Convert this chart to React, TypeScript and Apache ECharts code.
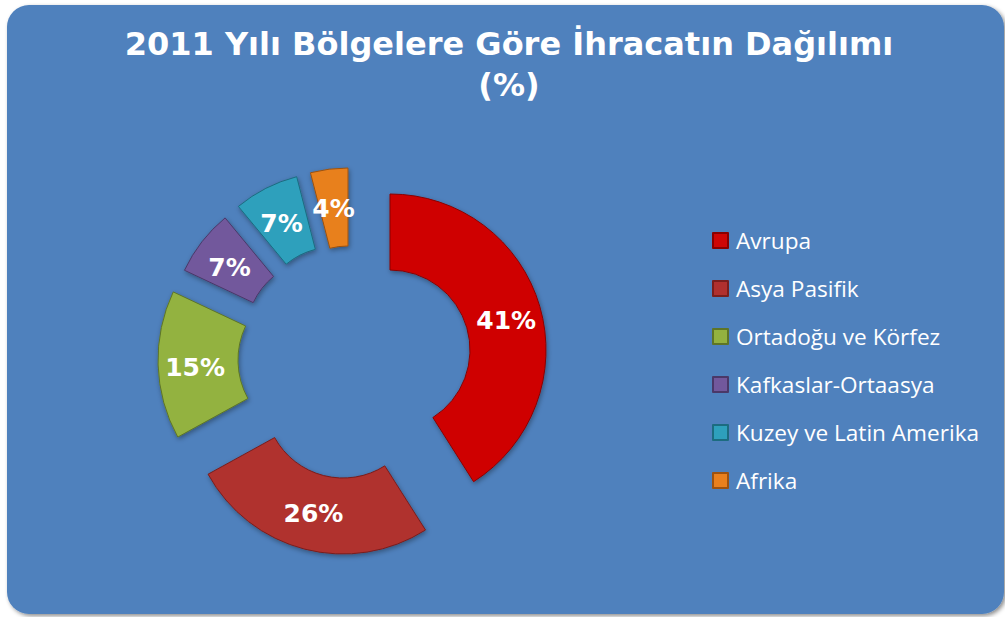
import React, { useEffect, useRef } from 'react';
import * as echarts from 'echarts';

const titleText = '2011 Yılı Bölgelere Göre İhracatın Dağılımı\n(%)';
const regions = [
  'Avrupa',
  'Asya Pasifik',
  'Ortadoğu ve Körfez',
  'Kafkaslar-Ortaasya',
  'Kuzey ve Latin Amerika',
  'Afrika',
];
const shares = [41, 26, 15, 7, 7, 4];

// styles
const sliceColors = ['#CF0606', '#B0302E', '#93B23F', '#72589C', '#2EA0BC', '#E8801E'];
const sliceBorders = ['#8A0000', '#7A1E1C', '#5E7526', '#4A3868', '#1C6C80', '#9C5210'];

// layout (each slice is pulled out of the ring on its own)
const sliceCenters = [
  [390, 350],
  [343, 400],
  [318, 360],
  [322, 335],
  [334, 322],
  [348, 319],
];
const sliceRadii = [
  [80, 156],
  [78, 154],
  [80, 160],
  [76, 152],
  [75, 150],
  [73, 151],
];
const labelOffsets = [
  [0, 4],
  [0, -2],
  [0, 4],
  [0, 4],
  [0, 4],
  [0, 4],
];

export default function App() {
  const ref = useRef<HTMLDivElement>(null);

  useEffect(() => {
    if (!ref.current) return;
    const chart = echarts.init(ref.current, null, { renderer: 'svg' });
    const total = shares.reduce((a, b) => a + b, 0);
    let cum = 0;
    const series = shares.map((v, i) => {
      const startAngle = 90 - (cum / total) * 360;
      cum += v;
      return {
        type: 'pie',
        silent: true,
        clockwise: true,
        startAngle,
        center: sliceCenters[i],
        radius: sliceRadii[i],
        avoidLabelOverlap: false,
        z: 3,
        label: {
          show: true,
          position: 'inside',
          formatter: '{c}%',
          color: '#ffffff',
          fontFamily: 'DejaVu Sans',
          fontWeight: 'bold',
          fontSize: 25,
          offset: labelOffsets[i],
        },
        labelLine: { show: false },
        data: [
          {
            name: regions[i],
            value: v,
            itemStyle: {
              color: sliceColors[i],
              borderColor: sliceBorders[i],
              borderWidth: 1,
              shadowBlur: 5,
              shadowColor: 'rgba(0,0,0,0.35)',
              shadowOffsetX: 1,
              shadowOffsetY: 2,
            },
          },
          {
            name: 'rest' + i,
            value: total - v,
            itemStyle: { color: 'rgba(0,0,0,0)', borderWidth: 0 },
            label: { show: false },
          },
        ],
      };
    });

    chart.setOption({
      animation: false,
      graphic: [
        {
          type: 'rect',
          z: 0,
          shape: { x: 7, y: 5, width: 997, height: 609, r: 22 },
          style: {
            fill: '#4F81BD',
            shadowBlur: 4,
            shadowColor: 'rgba(0,0,0,0.45)',
            shadowOffsetX: 2,
            shadowOffsetY: 2,
          },
        },
      ],
      title: {
        text: titleText,
        left: 509,
        top: 23,
        textAlign: 'center',
        padding: 0,
        textStyle: {
          color: '#ffffff',
          fontFamily: 'DejaVu Sans',
          fontWeight: 'bold',
          fontSize: 32,
          lineHeight: 41,
        },
      },
      legend: {
        orient: 'vertical',
        left: 712,
        top: 229,
        padding: 0,
        itemWidth: 15,
        itemHeight: 15,
        itemGap: 25,
        icon: 'rect',
        selectedMode: false,
        data: regions,
        textStyle: {
          color: '#ffffff',
          fontFamily: 'Open Sans',
          fontSize: 22.6,
          lineHeight: 23,
          padding: [0, 0, 0, 3],
        },
      },
      series,
    });

    return () => {
      chart.dispose();
    };
  }, []);

  return (
    <div
      ref={ref}
      style={{ position: 'fixed', left: 0, top: 0, width: 1005, height: 617, background: '#ffffff' }}
    />
  );
}
